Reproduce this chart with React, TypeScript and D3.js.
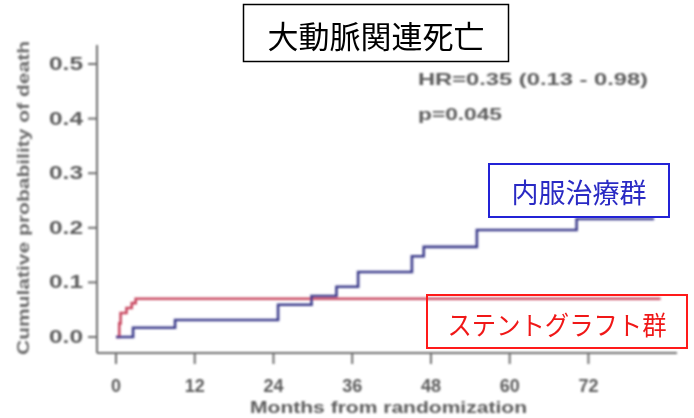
import React from "react";
import * as d3 from "d3";

// Kaplan–Meier style cumulative incidence of aortic-related death
const stentMonths = [0, 0.5, 0.7, 1.6, 2.4, 3.0, 83];
const stentProb = [0, 0.025, 0.044, 0.053, 0.062, 0.07, 0.07];

const medicalMonths = [0, 2.6, 9.0, 24.7, 29.8, 33.6, 36.9, 45.1, 46.9, 55.0, 70.2, 82];
const medicalProb = [0, 0.017, 0.031, 0.059, 0.075, 0.092, 0.119, 0.148, 0.165, 0.196, 0.216, 0.216];

const xTicks = [0, 12, 24, 36, 48, 60, 72];
const yTicks = [0, 0.1, 0.2, 0.3, 0.4, 0.5];

const title = "大動脈関連死亡";
const medicalLabel = "内服治療群";
const stentLabel = "ステントグラフト群";
const statLine1 = "HR=0.35  (0.13 - 0.98)";
const statLine2 = "p=0.045";
const xTitle = "Months from randomization";
const yTitle = "Cumulative probability of death";

const W = 694;
const H = 418;

export default function App() {
  const x = d3.scaleLinear().domain([0, 85.5]).range([116, 677]);
  const y = d3.scaleLinear().domain([0, 0.5]).range([337, 64]);
  const yTop = 45;
  const xAxisY = 353;
  const yAxisX = 97;

  const line = d3
    .line<[number, number]>()
    .x((d) => x(d[0]))
    .y((d) => y(d[1]))
    .curve(d3.curveStepAfter);

  const stentPts = stentMonths.map((m, i) => [m, stentProb[i]] as [number, number]);
  const medPts = medicalMonths.map((m, i) => [m, medicalProb[i]] as [number, number]);
  const fmt = d3.format(".1f");

  const axisColor = "#6e6e6e";
  const textColor = "#5c5c5c";
  const sans = "'Liberation Sans', Arial, sans-serif";
  const jp = "'Noto Sans CJK JP', sans-serif";

  return (
    <svg
      width={W}
      height={H}
      style={{ position: "absolute", left: 0, top: 0, background: "#fff" }}
    >
      <defs>
        <filter id="soft" x="-5%" y="-5%" width="110%" height="110%">
          <feGaussianBlur stdDeviation="0.85" />
        </filter>
      </defs>
      <rect width={W} height={H} fill="#fff" />

      <g filter="url(#soft)">
        {/* y axis */}
        <line x1={yAxisX} x2={yAxisX} y1={yTop} y2={xAxisY} stroke={axisColor} strokeWidth={2} />
        {yTicks.map((t) => (
          <g key={"y" + t}>
            <line x1={yAxisX - 9} x2={yAxisX} y1={y(t)} y2={y(t)} stroke={axisColor} strokeWidth={2} />
            <text
              x={83}
              y={y(t)}
              textAnchor="end"
              dominantBaseline="central"
              fontFamily={sans}
              fontWeight="bold"
              fontSize={18}
              fill={textColor}
              textLength={34}
              lengthAdjust="spacingAndGlyphs"
            >
              {fmt(t)}
            </text>
          </g>
        ))}
        <text
          transform={`translate(23,${198}) rotate(-90)`}
          textAnchor="middle"
          dominantBaseline="central"
          fontFamily={sans}
          fontWeight="bold"
          fontSize={16}
          fill="#6a6a6a"
          textLength={314}
          lengthAdjust="spacingAndGlyphs"
        >
          {yTitle}
        </text>

        {/* x axis */}
        <line x1={yAxisX} x2={677} y1={xAxisY} y2={xAxisY} stroke={axisColor} strokeWidth={2} />
        {xTicks.map((t) => (
          <g key={"x" + t}>
            <line x1={x(t)} x2={x(t)} y1={xAxisY} y2={xAxisY + 11} stroke={axisColor} strokeWidth={2} />
            <text
              x={x(t)}
              y={386}
              textAnchor="middle"
              dominantBaseline="central"
              fontFamily={sans}
              fontWeight="bold"
              fontSize={18}
              fill={textColor}
            >
              {t}
            </text>
          </g>
        ))}
        <text
          x={388.5}
          y={407}
          textAnchor="middle"
          dominantBaseline="central"
          fontFamily={sans}
          fontWeight="bold"
          fontSize={17}
          fill={textColor}
          textLength={277}
          lengthAdjust="spacingAndGlyphs"
        >
          {xTitle}
        </text>

        {/* statistics */}
        <text
          x={418}
          y={79}
          dominantBaseline="central"
          fontFamily={sans}
          fontWeight="bold"
          fontSize={17}
          fill={textColor}
          textLength={230}
          lengthAdjust="spacingAndGlyphs"
        >
          {statLine1}
        </text>
        <text
          x={418}
          y={114}
          dominantBaseline="central"
          fontFamily={sans}
          fontWeight="bold"
          fontSize={17}
          fill={textColor}
          textLength={84}
          lengthAdjust="spacingAndGlyphs"
        >
          {statLine2}
        </text>

        {/* curves */}
        <path d={line(stentPts) ?? ""} fill="none" stroke="#c94a62" strokeWidth={2.6} />
        <path d={line(medPts) ?? ""} fill="none" stroke="#3e3e8c" strokeWidth={2.6} />
      </g>

      {/* title */}
      <rect x={243.5} y={4.5} width={265} height={57} fill="#fff" stroke="#000" strokeWidth={1.5} />
      <text
        x={376}
        y={34}
        textAnchor="middle"
        dominantBaseline="central"
        fontFamily={jp}
        fontSize={31}
        fill="#000"
      >
        {title}
      </text>

      {/* group labels */}
      <rect x={489} y={164} width={180} height={53} fill="#fff" stroke="#2323d6" strokeWidth={2} />
      <text
        x={579}
        y={191}
        textAnchor="middle"
        dominantBaseline="central"
        fontFamily={jp}
        fontSize={27}
        fill="#2a2ac4"
      >
        {medicalLabel}
      </text>

      <rect x={427} y={295} width={260} height={53} fill="none" stroke="#ff1a1a" strokeWidth={2} />
      <text
        x={557}
        y={323}
        textAnchor="middle"
        dominantBaseline="central"
        fontFamily={jp}
        fontSize={26}
        fill="#f01818"
        textLength={219}
        lengthAdjust="spacingAndGlyphs"
      >
        {stentLabel}
      </text>
    </svg>
  );
}
